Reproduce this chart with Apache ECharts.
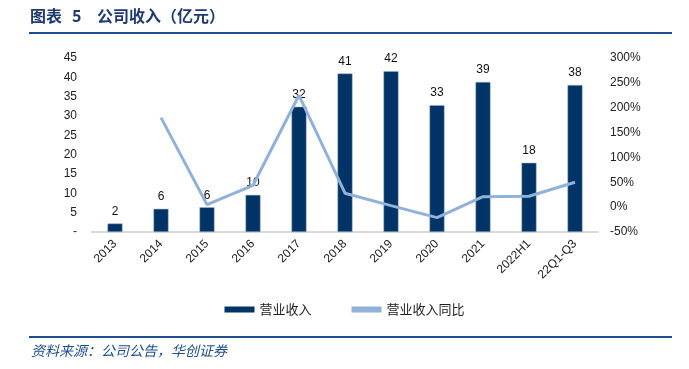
<!DOCTYPE html>
<html><head><meta charset="utf-8">
<script src="https://cdn.jsdelivr.net/npm/echarts@6/dist/echarts.min.js"></script>
<style>html,body{margin:0;padding:0;background:#fff}#c{width:689px;height:369px}</style>
</head><body><div id="c"></div>
<script>
const categories = ['2013','2014','2015','2016','2017','2018','2019','2020','2021','2022H1','22Q1-Q3'];
const revenue = [2.2, 6.0, 6.4, 9.6, 32.4, 41.0, 41.6, 32.8, 38.8, 17.9, 38.0];
const revenueYoY = [null, 180, 5, 44, 225, 28, 3, -21, 21, 22, 50];
const leftTicks = {min: 0, max: 45, interval: 5};
const rightTicks = {min: -50, max: 300, interval: 50};

const chart = echarts.init(document.getElementById('c'), null, {renderer: 'canvas'});
const navy = '#003366';
const light = '#8FB1DA';
const titleFont = 'bold 16px "Noto Sans CJK SC"';
chart.setOption({
  animation: false,
  textStyle: {fontFamily: 'Liberation Sans, Arial, sans-serif'},
  grid: {left: 92, right: 91, top: 58, bottom: 137, containLabel: false},
  graphic: [
    {type: 'text', left: 30, top: 8, style: {text: '图表', font: titleFont, fill: '#1F3A6E'}},
    {type: 'text', left: 72, top: 8, style: {text: '5', font: titleFont, fill: '#1F3A6E'}},
    {type: 'text', left: 97, top: 8, style: {text: '公司收入（亿元）', font: titleFont, fill: '#1F3A6E'}},
    {type: 'rect', shape: {x: 29, y: 32, width: 643, height: 2}, style: {fill: '#1F4E8C'}},
    {type: 'rect', shape: {x: 29, y: 336, width: 643, height: 2}, style: {fill: '#1F4E8C'}},
    {type: 'text', left: 31, top: 344, style: {text: '资料来源：公司公告，华创证券', font: 'italic 14px "Noto Sans CJK SC"', fill: '#1F4E8C'}}
  ],
  legend: {
    bottom: 48, left: 'center', itemGap: 40, itemWidth: 30, itemHeight: 6,
    textStyle: {fontSize: 13, color: '#222', fontFamily: 'Noto Sans CJK SC'},
    data: [
      {name: '营业收入', icon: 'rect', itemStyle: {color: navy, borderWidth: 0}},
      {name: '营业收入同比', icon: 'rect', itemStyle: {color: light, borderWidth: 0}}
    ]
  },
  xAxis: {
    type: 'category', data: categories,
    axisLine: {lineStyle: {color: '#D9D9D9', width: 2}},
    axisTick: {show: false},
    axisLabel: {rotate: 45, color: '#222', fontSize: 12, margin: 10, interval: 0}
  },
  yAxis: [
    {type: 'value', min: leftTicks.min, max: leftTicks.max, interval: leftTicks.interval,
     splitLine: {show: false}, axisLine: {show: false}, axisTick: {show: false},
     axisLabel: {color: '#222', fontSize: 12, margin: 15, formatter: v => v === 0 ? '-' : v}},
    {type: 'value', min: rightTicks.min, max: rightTicks.max, interval: rightTicks.interval,
     splitLine: {show: false}, axisLine: {show: false}, axisTick: {show: false},
     axisLabel: {color: '#222', fontSize: 12, margin: 12, formatter: v => v + '%'}}
  ],
  series: [
    {name: '营业收入', type: 'bar', data: revenue, barWidth: 15, yAxisIndex: 0,
     itemStyle: {color: navy, borderColor: '#9FB6CF', borderWidth: 0.5},
     label: {show: true, position: 'top', color: '#111', fontSize: 12, distance: 6,
             formatter: p => Math.round(p.value)}},
    {name: '营业收入同比', type: 'line', data: revenueYoY, yAxisIndex: 1,
     symbol: 'none', lineStyle: {color: light, width: 3}, itemStyle: {color: light}, z: 3}
  ]
});
</script></body></html>
